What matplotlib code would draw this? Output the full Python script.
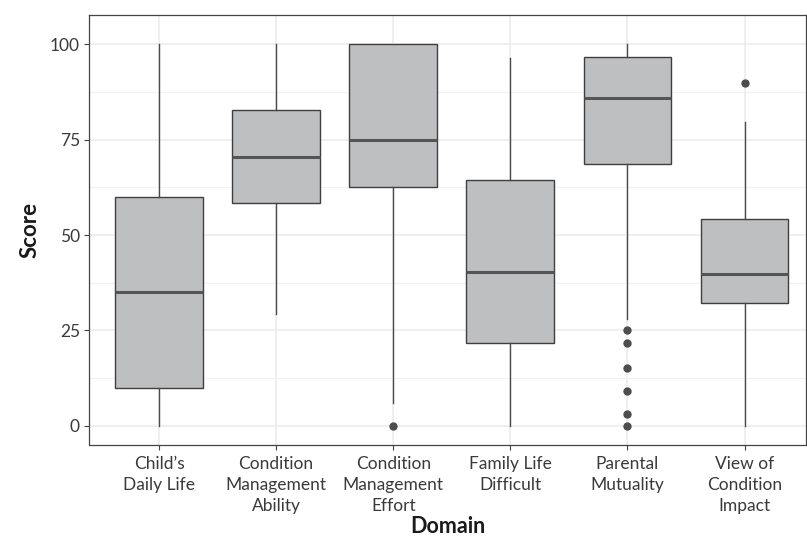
import matplotlib
matplotlib.use("Agg")
import matplotlib.pyplot as plt
from matplotlib.ticker import MultipleLocator

plt.rcParams['font.family'] = ['Lato', 'DejaVu Sans']

domains = ["Child\u2019s\nDaily Life", "Condition\nManagement\nAbility",
           "Condition\nManagement\nEffort", "Family Life\nDifficult",
           "Parental\nMutuality", "View of\nCondition\nImpact"]
whisker_low = [0, 29.3, 6.1, 0, 28.1, 0]
q1 = [10.0, 58.3, 62.5, 21.6, 68.6, 32.3]
median = [35.0, 70.5, 75.0, 40.2, 85.9, 39.9]
q3 = [60.0, 82.8, 100.0, 64.3, 96.7, 54.2]
whisker_high = [100, 100, 100, 96.3, 100, 79.6]
outliers = [[], [], [0.0], [], [25.0, 21.7, 15.2, 9.1, 3.1, 0.0], [89.7]]

stats = []
for i in range(len(domains)):
    stats.append(dict(whislo=whisker_low[i], q1=q1[i], med=median[i], q3=q3[i],
                      whishi=whisker_high[i], fliers=outliers[i], label=domains[i]))

W, H = 807, 539
fig = plt.figure(figsize=(W / 100, H / 100), dpi=100)
ax = fig.add_axes([89 / W, 1 - 444.5 / H, (806 - 89) / W, (444.5 - 15) / H])

edge = "#3f3f3f"
ax.bxp(stats, positions=range(1, 7), widths=0.75, patch_artist=True,
       showcaps=False,
       boxprops=dict(facecolor="#bebfc1", edgecolor=edge, linewidth=1.0),
       whiskerprops=dict(color="#4a4a4a", linewidth=1.0),
       medianprops=dict(color="#555555", linewidth=2.2),
       flierprops=dict(marker="o", markerfacecolor="#4d4d4d", markeredgecolor="#4d4d4d",
                       markersize=5.0))

ax.set_xlim(0.402, 0.402 + (806 - 89) / 117.1)
ax.set_ylim(-4.85, 107.6)
ax.yaxis.set_major_locator(MultipleLocator(25))
ax.yaxis.set_minor_locator(MultipleLocator(12.5))
ax.set_axisbelow(True)
ax.grid(which="major", color="#ebebeb", linewidth=1.1)
ax.grid(which="minor", axis="y", color="#f2f2f2", linewidth=0.8)
ax.tick_params(which="minor", length=0)
ax.tick_params(which="major", length=3.5, width=0.8, color="#444444",
               labelsize=12.5, labelcolor="#3a3a3a", pad=3)
ax.tick_params(axis="x", pad=5)
for s in ax.spines.values():
    s.set_color("#444444")
    s.set_linewidth(0.9)

ax.set_xticks(range(1, 7))
ax.set_xticklabels(domains, linespacing=1.38)
ax.set_xlabel("Domain", fontsize=15.5, fontweight="bold", color="#1a1a1a", labelpad=1)
ax.set_ylabel("Score", fontsize=16, fontweight="bold", color="#1a1a1a", labelpad=7)

fig.savefig("out.png", dpi=100)
